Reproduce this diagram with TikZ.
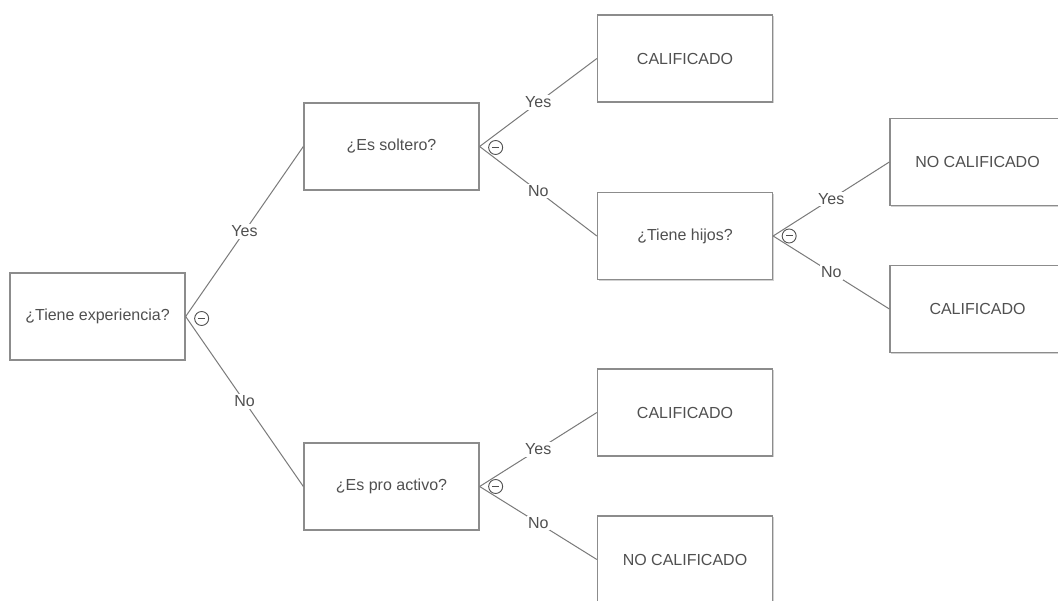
\documentclass[tikz,border=0pt]{standalone}
\usepackage{fontspec}
\setmainfont{Liberation Sans}
\usetikzlibrary{shadows}
\definecolor{boxline}{HTML}{8C8C8C}
\definecolor{edgeline}{HTML}{7A7A7A}
\definecolor{txt}{HTML}{505050}
\tikzset{
  box/.style={draw=boxline, line width=1.3pt, fill=white, minimum width=175pt, minimum height=87pt,
    inner sep=0pt, text=txt, font=\fontsize{16}{19}\selectfont,
    drop shadow={shadow xshift=1.2pt, shadow yshift=-1.2pt, opacity=0.18, fill=black}},
  edge/.style={draw=edgeline, line width=1pt},
  lbl/.style={fill=white, inner sep=1.5pt, text=txt, font=\fontsize{16}{19}\selectfont, midway},
  collapse/.style={draw=txt, line width=0.9pt, circle, minimum size=14pt, inner sep=0pt, fill=white,
    path picture={\draw[txt, line width=1pt] ([xshift=-3.4pt]path picture bounding box.center) -- ([xshift=3.4pt]path picture bounding box.center);}}
}
\begin{document}
\begin{tikzpicture}[x=1pt, y=-1pt]
\clip (0,0) rectangle (1058,601);
\fill[white] (0,0) rectangle (1058,601);

\node[box] (A) at (97.5,316.5) {¿Tiene experiencia?};
\node[box] (B) at (391.5,146.5) {¿Es soltero?};
\node[box] (C) at (685,58.5) {CALIFICADO};
\node[box] (D) at (685,236) {¿Tiene hijos?};
\node[box] (E) at (977.5,162) {NO CALIFICADO};
\node[box] (F) at (977.5,309) {CALIFICADO};
\node[box] (G) at (391.5,486.5) {¿Es pro activo?};
\node[box] (H) at (685,412.5) {CALIFICADO};
\node[box] (I) at (685,559.5) {NO CALIFICADO};

\draw[edge] (A.east) -- node[lbl]{Yes} (B.west);
\draw[edge] (A.east) -- node[lbl]{No} (G.west);
\draw[edge] (B.east) -- node[lbl]{Yes} (C.west);
\draw[edge] (B.east) -- node[lbl]{No} (D.west);
\draw[edge] (D.east) -- node[lbl]{Yes} (E.west);
\draw[edge] (D.east) -- node[lbl]{No} (F.west);
\draw[edge] (G.east) -- node[lbl]{Yes} (H.west);
\draw[edge] (G.east) -- node[lbl]{No} (I.west);

\node[collapse] (cA) at ([xshift=16pt,yshift=-2pt]A.east) {};
\node[collapse] (cB) at ([xshift=16pt,yshift=-1pt]B.east) {};
\node[collapse] (cD) at ([xshift=16pt]D.east) {};
\node[collapse] (cG) at ([xshift=16pt]G.east) {};
\end{tikzpicture}
\end{document}
